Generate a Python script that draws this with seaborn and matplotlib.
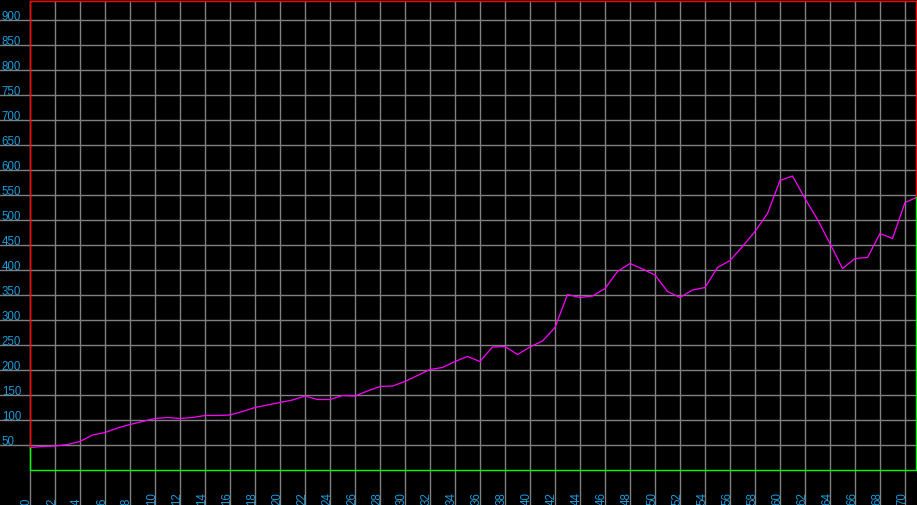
import matplotlib
matplotlib.use("Agg")
import matplotlib.pyplot as plt
import seaborn as sns
import pandas as pd

x_values = list(range(72))
y_values = [45, 47, 48, 51, 57, 70, 75, 84, 91, 97, 103, 105, 103, 105, 109, 109,
            110, 117, 125, 130, 135, 140, 148, 141, 141, 149, 148, 158, 167, 168, 177, 189,
            201, 205, 217, 227, 217, 246, 247, 231, 246, 258, 285, 351, 345,
            348, 363, 397, 413, 402, 390, 357, 345, 360, 365, 405, 419, 447, 477, 513,
            579, 588, 543, 501, 453, 403, 423, 425, 473, 463, 535, 546]
x_ticks = list(range(0, 71, 2))
y_ticks = list(range(50, 901, 50))

df = pd.DataFrame({"x": x_values, "y": y_values})

label_color = "#1c9cd8"
grid_color = "#808080"

fig = plt.figure(figsize=(9.17, 5.05), dpi=100, facecolor="black")
ax = fig.add_axes([0, 0, 1, 1])
ax.set_facecolor("black")
for s in ax.spines.values():
    s.set_visible(False)

x_left, x_right = -2.4, 70.96
y_bottom, y_top = -70, 940
ax.set_xlim(x_left, x_right)
ax.set_ylim(y_bottom, y_top)

top_val = 938
xr = 70.88

for yt in y_ticks:
    ax.axhline(yt, color=grid_color, lw=1.0, zorder=1)
    ax.text(x_left + 0.15, yt, str(yt), color=label_color, fontsize=8.3,
            family="Liberation Sans", ha="left", va="baseline", zorder=3)
for xt in x_ticks:
    ax.plot([xt, xt], [y_bottom, top_val], color=grid_color, lw=1.0, zorder=1)
    ax.text(xt, y_bottom + 0.5, str(xt), color=label_color, fontsize=8.3,
            family="Liberation Sans", rotation=90, rotation_mode="anchor",
            ha="left", va="baseline", zorder=3)

sns.lineplot(data=df, x="x", y="y", ax=ax, color="#ff00ff", lw=0.9, zorder=4)
ax.set_xlabel("")
ax.set_ylabel("")

# frame: red above the curve, green below
ax.plot([0, 0, xr, xr], [y_values[0], top_val, top_val, y_values[-1]],
        color="#ff0000", lw=1.0, zorder=5)
ax.plot([0, 0, xr, xr], [y_values[0], 0, 0, y_values[-1]],
        color="#00ff00", lw=1.0, zorder=5)

ax.set_xticks([])
ax.set_yticks([])
fig.savefig("out.png", dpi=100, facecolor="black")
